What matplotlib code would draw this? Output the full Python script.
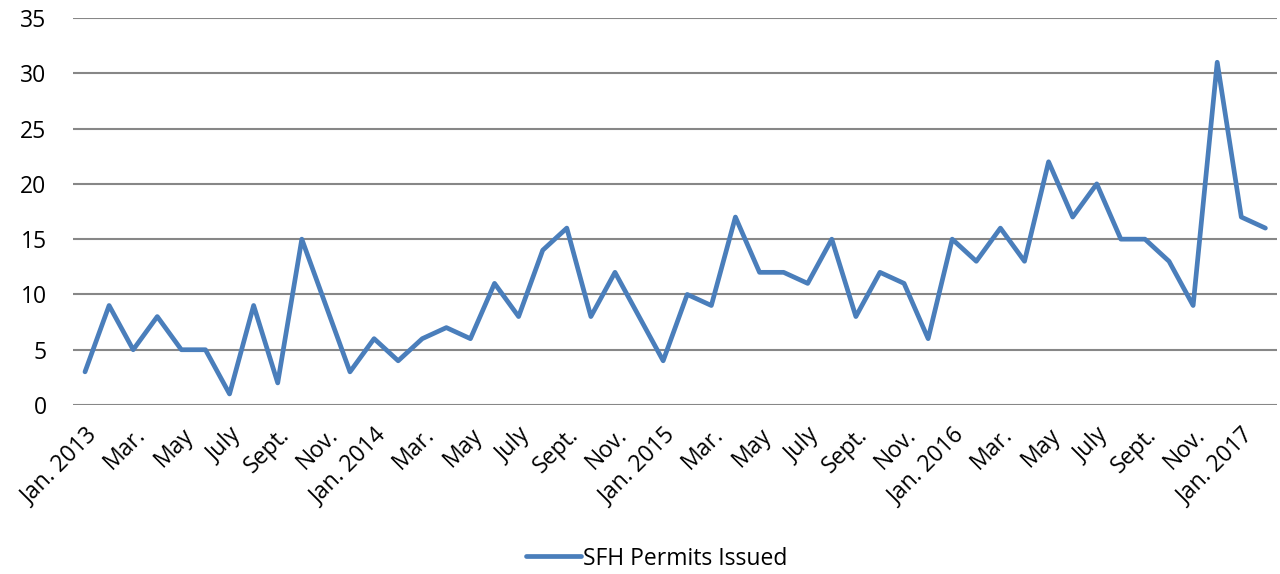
import numpy as np
import matplotlib
matplotlib.use("Agg")
import matplotlib.pyplot as plt

# monthly single-family-home permits, Jan. 2013 - Feb. 2017
permits = [3, 9, 5, 8, 5, 5, 1, 9, 2, 15, 9, 3,
           6, 4, 6, 7, 6, 11, 8, 14, 16, 8, 12, 8,
           4, 10, 9, 17, 12, 12, 11, 15, 8, 12, 11, 6,
           15, 13, 16, 13, 22, 17, 20, 15, 15, 13, 9, 31,
           17, 16]
month_names = ["Jan.", "Feb.", "Mar.", "Apr.", "May", "June",
               "July", "Aug.", "Sept.", "Oct.", "Nov.", "Dec."]
start_year = 2013

labels = []
for i in range(len(permits)):
    m = i % 12
    if m == 0:
        labels.append("%s %d" % (month_names[m], start_year + i // 12))
    else:
        labels.append(month_names[m])

plt.rcParams['font.family'] = ['Open Sans', 'DejaVu Sans']

fig = plt.figure(figsize=(12.8, 5.74), dpi=100)
ax = fig.add_axes([0.057, 0.2944, 0.941, 0.6742])

x = np.arange(len(permits))
ax.plot(x, permits, color='#4A7EBB', linewidth=3.4, solid_joinstyle='round',
        solid_capstyle='round', label='SFH Permits Issued', zorder=3)

ax.set_xlim(-0.5, len(permits) - 0.5)
ax.set_ylim(0, 35)
ax.set_yticks(range(0, 36, 5))
ax.yaxis.grid(True, color='#878787', linewidth=1.5)
ax.set_axisbelow(True)
for s in ax.spines.values():
    s.set_visible(False)

ax.set_xticks(x[::2])
ax.set_xticklabels(labels[::2], rotation=45, ha='right', rotation_mode='anchor')
ax.tick_params(axis='both', length=0, labelsize=16.5, colors='black')
ax.tick_params(axis='x', pad=13)
ax.tick_params(axis='y', pad=19)

fig.legend(loc='center', bbox_to_anchor=(0.513, 0.027), frameon=False,
           fontsize=16.5, handlelength=2.4, handletextpad=0.1)

fig.savefig('out.png', dpi=100)
